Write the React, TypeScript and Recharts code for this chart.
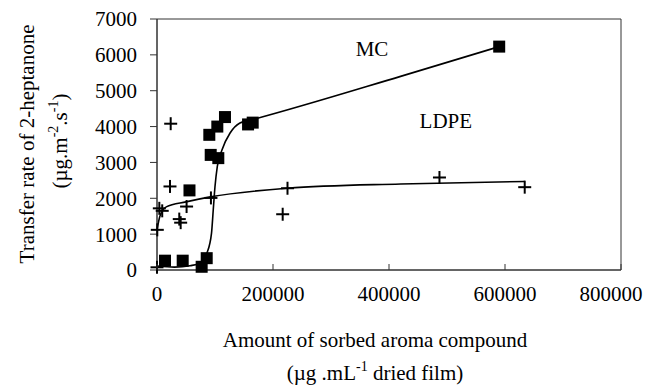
import React from 'react';
import { ComposedChart, XAxis, YAxis, Line, Scatter, ReferenceArea, ReferenceDot } from 'recharts';

const FONT = "'Liberation Serif', 'Times New Roman', serif";

const xTicks = [0, 200000, 400000, 600000, 800000];
const yTicks = [0, 1000, 2000, 3000, 4000, 5000, 6000, 7000];

// MC (squares)
const mcX = [13800, 44300, 77000, 85700, 90200, 92600, 104000, 105700, 117200, 56000, 157000, 165000, 590000];
const mcY = [260, 260, 90, 330, 3770, 3210, 4000, 3120, 4265, 2220, 4060, 4110, 6230];

// LDPE (crosses)
const ldX = [0, 500, 4000, 9000, 22400, 23600, 38400, 40800, 51000, 93000, 216700, 225000, 487000, 634000];
const ldY = [75, 1120, 1720, 1650, 2330, 4080, 1420, 1320, 1770, 2010, 1555, 2280, 2580, 2310];

// trend curves
const mcCurveX = [0, 30000, 57000, 74000, 86000, 94000, 97000, 100000, 104000, 112000, 126000, 143000, 157000, 420000, 590000];
const mcCurveY = [110, 80, 120, 190, 470, 1030, 1680, 2330, 2890, 3350, 3820, 4100, 4160, 5400, 6230];
const ldCurveX = [0, 5000, 16000, 50000, 92000, 225000, 420000, 634000];
const ldCurveY = [1117, 1500, 1760, 1900, 2040, 2280, 2400, 2470];

const zip = (xs: number[], ys: number[]) => xs.map((x, i) => ({ x, y: ys[i] }));
const mcData = zip(mcX, mcY);
const ldData = zip(ldX, ldY);
const mcCurve = zip(mcCurveX, mcCurveY);
const ldCurve = zip(ldCurveX, ldCurveY);

const Square = (p: any) => <rect x={p.cx - 6} y={p.cy - 6} width={12} height={12} fill="#000" />;
const Plus = (p: any) => (
  <g stroke="#000" strokeWidth={2}>
    <line x1={p.cx - 6.5} x2={p.cx + 6.5} y1={p.cy} y2={p.cy} />
    <line x1={p.cx} x2={p.cx} y1={p.cy - 6.5} y2={p.cy + 6.5} />
  </g>
);

const XTick = (p: any) => {
  const { x, y, payload } = p;
  const tx = Math.min(x, 611);
  return (
    <g>
      <line x1={x} x2={x} y1={y} y2={y - 6} stroke="#333" />
      <text x={tx} y={y + 31} textAnchor="middle" fontFamily={FONT} fontSize={21} fill="#000">
        {payload.value}
      </text>
    </g>
  );
};

const XTitle = () => (
  <g fontFamily={FONT} fontSize={21} fill="#000">
    <text x={375} y={347} textAnchor="middle">Amount of sorbed aroma compound</text>
    <text x={375} y={380} textAnchor="middle">
      (µg .mL<tspan fontSize={14} dy={-9}>-1</tspan>
      <tspan dy={9}> dried film)</tspan>
    </text>
  </g>
);

const YTitle = () => (
  <g fontFamily={FONT} fontSize={21} fill="#000">
    <text transform="translate(34,144) rotate(-90)" textAnchor="middle">Transfer rate of 2-heptanone</text>
    <text transform="translate(67,141) rotate(-90)" textAnchor="middle">
      (µg.m<tspan fontSize={14} dy={-9}>-2</tspan>
      <tspan dy={9}>.s</tspan>
      <tspan fontSize={14} dy={-9}>-1</tspan>
      <tspan dy={9}>)</tspan>
    </text>
  </g>
);

export default function App() {
  return (
    <div style={{ position: 'absolute', left: 0, top: 0, background: '#fff' }}>
      <ComposedChart width={648} height={392} margin={{ top: 19, right: 27, left: 0, bottom: 0 }}>
        <XAxis
          type="number"
          dataKey="x"
          domain={[0, 800000]}
          ticks={xTicks}
          interval={0}
          height={122}
          tickSize={0}
          tickMargin={0}
          tickLine={false}
          axisLine={{ stroke: '#333' }}
          tick={<XTick />}
          label={<XTitle />}
        />
        <YAxis
          type="number"
          dataKey="y"
          domain={[0, 7000]}
          ticks={yTicks}
          interval={0}
          width={157}
          tickSize={7}
          tickMargin={13}
          tickLine={{ stroke: '#333' }}
          axisLine={{ stroke: '#333' }}
          tick={{ fontFamily: FONT, fontSize: 21, fill: '#000' }}
          label={<YTitle />}
        />
        <ReferenceArea x1={0} x2={800000} y1={0} y2={7000} fill="none" stroke="#333" strokeWidth={1} ifOverflow="visible" />
        <Line data={ldCurve} dataKey="y" type="monotone" stroke="#000" strokeWidth={1.6} dot={false} isAnimationActive={false} />
        <Line data={mcCurve} dataKey="y" type="monotone" stroke="#000" strokeWidth={1.6} dot={false} isAnimationActive={false} />
        <Scatter data={ldData} dataKey="y" shape={Plus} isAnimationActive={false} />
        <Scatter data={mcData} dataKey="y" shape={Square} isAnimationActive={false} />
        <ReferenceDot x={370700} y={6163} r={1} fill="none" stroke="none"
          label={{ value: 'MC', position: 'center', fontSize: 21, fill: '#000', fontFamily: FONT }} />
        <ReferenceDot x={498000} y={4180} r={1} fill="none" stroke="none"
          label={{ value: 'LDPE', position: 'center', fontSize: 21, fill: '#000', fontFamily: FONT }} />
      </ComposedChart>
    </div>
  );
}
